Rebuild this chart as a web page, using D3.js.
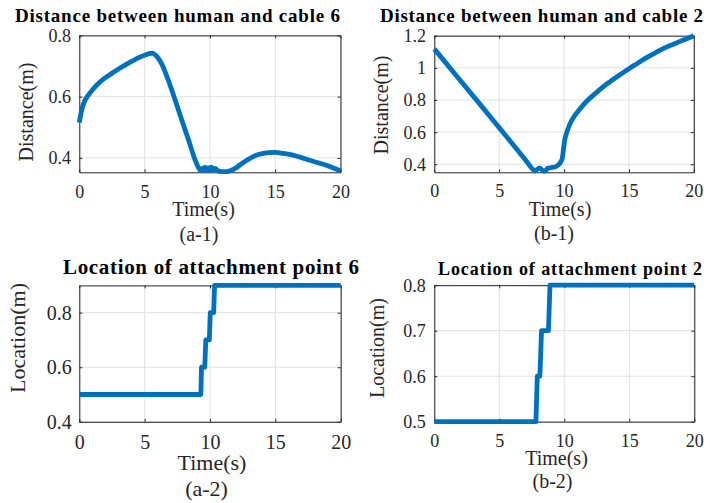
<!DOCTYPE html>
<html>
<head>
<meta charset="utf-8">
<script src="https://cdn.jsdelivr.net/npm/d3@7"></script>
<style>
  body { margin: 0; background: #fff; }
  svg { display: block; }
  svg text { font-family: "Liberation Serif", "Times New Roman", serif !important; }
</style>
</head>
<body>
<svg id="fig" width="710" height="503"></svg>
<script>
// ---- data ----
const timeTicks = [0, 5, 10, 15, 20];

// (a-1) distance between human and cable 6
const timeA1 = [0, 0.18, 0.4, 0.69, 1.0, 1.46, 2.0, 2.48, 3.0, 3.5, 4.0, 4.53, 5.0, 5.42, 5.6, 5.8, 6.05, 6.32, 6.6, 6.83,
  7.34, 7.85, 8.36, 8.87, 9.1, 9.25, 9.4, 9.5, 9.62, 9.75, 9.88, 10.0, 10.12, 10.25, 10.4, 10.6, 10.92, 11.3, 11.6, 11.94,
  12.4, 12.97, 13.5, 13.99, 14.5, 15.0, 15.6, 16.28, 17.0, 17.57, 18.2, 18.85, 19.4, 20.0];
const distA1 = [0.515, 0.556, 0.585, 0.605, 0.622, 0.643, 0.662, 0.676, 0.690, 0.703, 0.715, 0.727, 0.735, 0.741, 0.742, 0.737, 0.725, 0.706, 0.678, 0.652,
  0.589, 0.523, 0.459, 0.393, 0.370, 0.360, 0.366, 0.358, 0.370, 0.360, 0.368, 0.359, 0.370, 0.360, 0.366, 0.358, 0.355, 0.355, 0.359, 0.366,
  0.380, 0.396, 0.408, 0.414, 0.417, 0.418, 0.415, 0.410, 0.401, 0.393, 0.385, 0.377, 0.368, 0.358];
const distTicksA1 = [0.4, 0.6, 0.8];

// (b-1) distance between human and cable 2
const timeB1 = [0, 1.0, 2.23, 3.5, 5.0, 6.33, 7.0, 7.6, 7.75, 7.9, 8.1, 8.25, 8.45, 8.6, 8.75, 9.0, 9.3, 9.54, 9.75, 9.87,
  9.95, 10.05, 10.2, 10.44, 10.8, 11.2, 11.8, 12.49, 13.1, 13.77, 14.4, 15.0, 15.7, 16.33, 17.0, 17.6, 18.3, 18.9, 19.5, 20.0];
const distB1 = [1.118, 1.02, 0.899, 0.776, 0.628, 0.496, 0.43, 0.368, 0.358, 0.366, 0.378, 0.368, 0.357, 0.362, 0.376, 0.379, 0.383, 0.395, 0.415, 0.44,
  0.49, 0.55, 0.595, 0.648, 0.70, 0.742, 0.797, 0.846, 0.888, 0.927, 0.962, 0.995, 1.030, 1.062, 1.092, 1.118, 1.143, 1.163, 1.183, 1.2];
const distTicksB1 = [0.4, 0.6, 0.8, 1.0, 1.2];

// (a-2) location of attachment point 6
const timeA2 = [0, 9.3, 9.35, 9.6, 9.68, 9.95, 10.02, 10.28, 10.35, 20];
const locA2 = [0.5, 0.5, 0.6, 0.6, 0.7, 0.7, 0.8, 0.8, 0.9, 0.9];
const locTicksA2 = [0.4, 0.6, 0.8];

// (b-2) location of attachment point 2
const timeB2 = [0, 7.82, 7.92, 8.12, 8.25, 8.78, 8.9, 20];
const locB2 = [0.5, 0.5, 0.6, 0.6, 0.7, 0.7, 0.8, 0.8];
const locTicksB2 = [0.5, 0.6, 0.7, 0.8];

// ---- panel layout ----
const panels = [
  { t: timeA1, v: distA1, yDomain: [0.353, 0.8], yTicks: distTicksA1, curve: d3.curveMonotoneX,
    box: [79.3, 340.5, 35.4, 172.3], tickFont: 18, xTickBase: 198, yTickRight: 71,
    title: { text: "Distance between human and cable 6", x: 15, len: 325, y: 22, size: 19 },
    xlab: { text: "Time(s)", x: 203.5, y: 216, size: 20 },
    sub: { text: "(a-1)", x: 199, y: 241, size: 20 },
    ylab: { text: "Distance(m)", x: 33, y: 112, size: 20 } },
  { t: timeB1, v: distB1, yDomain: [0.35, 1.2], yTicks: distTicksB1, curve: d3.curveMonotoneX,
    box: [434.3, 693.8, 35.7, 172.3], tickFont: 18, xTickBase: 197, yTickRight: 426,
    title: { text: "Distance between human and cable 2", x: 380, len: 323, y: 22, size: 19 },
    xlab: { text: "Time(s)", x: 560, y: 216, size: 20 },
    sub: { text: "(b-1)", x: 554, y: 240, size: 20 },
    ylab: { text: "Distance(m)", x: 388, y: 105, size: 20 } },
  { t: timeA2, v: locA2, yDomain: [0.4, 0.9], yTicks: locTicksA2, curve: d3.curveLinear,
    box: [79.3, 340.7, 285.4, 421.8], tickFont: 20, xTickBase: 449, yTickRight: 71.7,
    title: { text: "Location of attachment point 6", x: 63, len: 296, y: 274, size: 21 },
    xlab: { text: "Time(s)", x: 212, y: 470, size: 22 },
    sub: { text: "(a-2)", x: 206.5, y: 496, size: 22 },
    ylab: { text: "Location(m)", x: 25, y: 338, size: 22 } },
  { t: timeB2, v: locB2, yDomain: [0.5, 0.8], yTicks: locTicksB2, curve: d3.curveLinear,
    box: [434.3, 694.3, 285.2, 421.7], tickFont: 18, xTickBase: 447, yTickRight: 425.7,
    title: { text: "Location of attachment point 2", x: 438, len: 264, y: 275, size: 18 },
    xlab: { text: "Time(s)", x: 556.5, y: 465, size: 20 },
    sub: { text: "(b-2)", x: 552.5, y: 488, size: 20 },
    ylab: { text: "Location(m)", x: 383.5, y: 348, size: 20 } }
];

const svg = d3.select("#fig");
const serif = '"Liberation Serif", "Times New Roman", serif';
const axisColor = "#262626";
const gridColor = "#e1e1e1";
const lineColor = "#0072BD";
const fmt = d => (d === 1 ? "1" : d3.format(".1f")(d));

panels.forEach(p => {
  const [x0, x1, y0, y1] = p.box;
  const x = d3.scaleLinear().domain([0, 20]).range([x0, x1]);
  const y = d3.scaleLinear().domain(p.yDomain).range([y1, y0]);
  const g = svg.append("g");

  // grid
  g.append("g").selectAll("line").data(timeTicks).join("line")
    .attr("x1", d => x(d)).attr("x2", d => x(d)).attr("y1", y0).attr("y2", y1)
    .attr("stroke", gridColor).attr("stroke-width", 1);
  g.append("g").selectAll("line").data(p.yTicks).join("line")
    .attr("x1", x0).attr("x2", x1).attr("y1", d => y(d)).attr("y2", d => y(d))
    .attr("stroke", gridColor).attr("stroke-width", 1);

  // axes (ticks point inward, box on all four sides)
  const bottom = g.append("g").attr("transform", `translate(0,${y1})`)
    .call(d3.axisBottom(x).tickValues(timeTicks).tickSizeInner(-3).tickSizeOuter(0));
  const left = g.append("g").attr("transform", `translate(${x0},0)`)
    .call(d3.axisLeft(y).tickValues(p.yTicks).tickFormat(fmt).tickSizeInner(-3).tickSizeOuter(0));
  [bottom, left].forEach(a => a.attr("font-family", null).attr("font-size", null));
  bottom.selectAll("text").attr("dy", null).attr("y", p.xTickBase - y1)
    .style("font-family", serif).style("font-size", p.tickFont + "px").attr("fill", axisColor);
  left.selectAll("text").attr("x", -(x0 - p.yTickRight)).attr("dy", "0.33em")
    .style("font-family", serif).style("font-size", p.tickFont + "px").attr("fill", axisColor);
  g.append("g").attr("transform", `translate(0,${y0})`)
    .call(d3.axisTop(x).tickValues(timeTicks).tickFormat("").tickSizeInner(-3).tickSizeOuter(0));
  g.append("g").attr("transform", `translate(${x1},0)`)
    .call(d3.axisRight(y).tickValues(p.yTicks).tickFormat("").tickSizeInner(-3).tickSizeOuter(0));
  g.selectAll(".domain, .tick line").attr("stroke", axisColor).attr("stroke-width", 1);

  // data line
  const pts = p.t.map((t, i) => [t, p.v[i]]);
  g.append("path").datum(pts)
    .attr("d", d3.line().x(d => x(d[0])).y(d => y(d[1])).curve(p.curve))
    .attr("fill", "none").attr("stroke", lineColor).attr("stroke-width", 4.8)
    .attr("stroke-linejoin", "round");

  // titles and labels
  g.append("text").attr("x", p.title.x).attr("y", p.title.y)
    .attr("textLength", p.title.len).attr("lengthAdjust", "spacing")
    .style("font-size", p.title.size + "px").attr("font-weight", "bold").attr("fill", "#000")
    .text(p.title.text);
  g.append("text").attr("x", p.xlab.x).attr("y", p.xlab.y).attr("text-anchor", "middle")
    .style("font-size", p.xlab.size + "px").attr("fill", axisColor).text(p.xlab.text);
  g.append("text").attr("x", p.sub.x).attr("y", p.sub.y).attr("text-anchor", "middle")
    .style("font-size", p.sub.size + "px").attr("fill", axisColor).text(p.sub.text);
  g.append("text").attr("transform", `translate(${p.ylab.x},${p.ylab.y}) rotate(-90)`)
    .attr("text-anchor", "middle").style("font-size", p.ylab.size + "px").attr("fill", axisColor)
    .text(p.ylab.text);
});
</script>
</body>
</html>
